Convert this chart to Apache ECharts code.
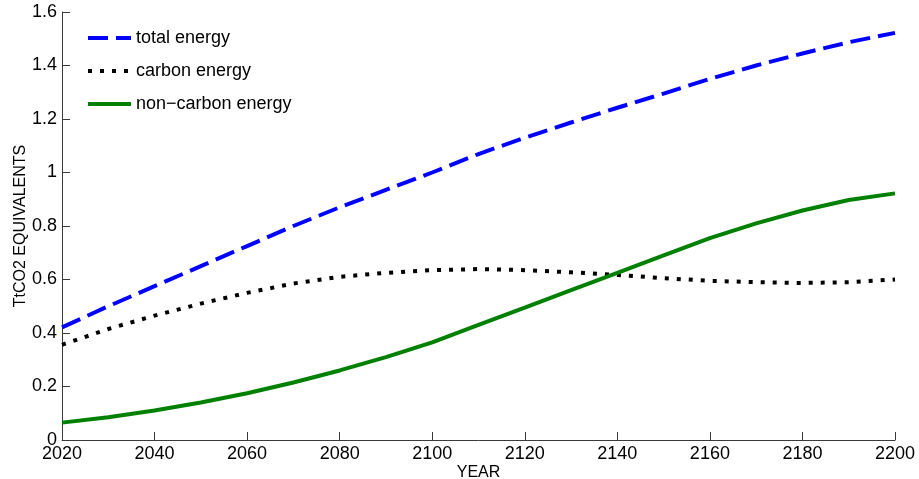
<!DOCTYPE html>
<html>
<head>
<meta charset="utf-8">
<script src="https://cdn.jsdelivr.net/npm/echarts@6/dist/echarts.min.js"></script>
<style>
  html, body { margin: 0; padding: 0; background: #fff; }
  #chart { width: 919px; height: 479px; }
</style>
</head>
<body>
<div id="chart"></div>
<script>
// Decadal projections, TtCO2 equivalents
const years = [2020, 2030, 2040, 2050, 2060, 2070, 2080, 2090, 2100, 2110,
               2120, 2130, 2140, 2150, 2160, 2170, 2180, 2190, 2200];
const totalEnergy = [0.421, 0.500, 0.575, 0.650, 0.725, 0.800, 0.870, 0.935, 1.000, 1.069,
                     1.130, 1.187, 1.242, 1.295, 1.350, 1.400, 1.445, 1.487, 1.522];
const carbonEnergy = [0.356, 0.415, 0.465, 0.510, 0.550, 0.585, 0.610, 0.625, 0.635, 0.639,
                      0.635, 0.627, 0.617, 0.605, 0.595, 0.590, 0.587, 0.590, 0.600];
const nonCarbonEnergy = [0.065, 0.085, 0.110, 0.140, 0.175, 0.215, 0.260, 0.310, 0.365, 0.430,
                         0.495, 0.560, 0.625, 0.690, 0.755, 0.810, 0.858, 0.897, 0.922];
const seriesNames = ['total energy', 'carbon energy', 'non\u2212carbon energy'];

const pairs = (vals) => years.map((y, i) => [y, vals[i]]);
const FONT = '"Liberation Sans", Arial, Helvetica, sans-serif';

const chart = echarts.init(document.getElementById('chart'), null, { renderer: 'canvas' });

const axisCommon = {
  axisLine: { show: true, lineStyle: { color: '#3a3a3a', width: 1 } },
  axisTick: { show: true, inside: true, length: 8, lineStyle: { color: '#3a3a3a', width: 1 } },
  splitLine: { show: false },
  nameMoveOverlap: false
};

chart.setOption({
  animation: false,
  backgroundColor: '#fff',
  grid: { left: 62, right: 24, top: 12, bottom: 39, containLabel: false, outerBoundsMode: 'none' },
  legend: {
    orient: 'vertical',
    left: 81,
    top: 24,
    itemWidth: 43,
    itemHeight: 14,
    itemGap: 15,
    itemStyle: { opacity: 0 },
    lineStyle: { width: 4 },
    textStyle: { color: '#000', fontFamily: FONT, fontSize: 18 },
    data: seriesNames
  },
  xAxis: Object.assign({}, axisCommon, {
    type: 'value',
    min: 2020,
    max: 2200,
    interval: 20,
    name: 'YEAR',
    nameLocation: 'middle',
    nameGap: 25,
    nameTextStyle: { color: '#000', fontFamily: FONT, fontSize: 16 },
    axisLabel: { color: '#000', fontFamily: FONT, fontSize: 18, margin: 5,
                 formatter: (v) => String(v) }
  }),
  yAxis: Object.assign({}, axisCommon, {
    type: 'value',
    min: 0,
    max: 1.6,
    interval: 0.2,
    name: 'TtCO2 EQUIVALENTS',
    nameLocation: 'middle',
    nameGap: 33,
    nameTextStyle: { color: '#000', fontFamily: FONT, fontSize: 16 },
    axisLabel: { color: '#000', fontFamily: FONT, fontSize: 18, margin: 5 }
  }),
  series: [
    {
      name: seriesNames[0],
      type: 'line',
      data: pairs(totalEnergy),
      showSymbol: false,
      symbol: 'none',
      lineStyle: { color: '#0000ff', width: 4, type: [20, 8], cap: 'butt' },
      itemStyle: { color: '#0000ff' }
    },
    {
      name: seriesNames[1],
      type: 'line',
      data: pairs(carbonEnergy),
      showSymbol: false,
      symbol: 'none',
      lineStyle: { color: '#000000', width: 4, type: [4, 8], cap: 'butt' },
      itemStyle: { color: '#000000' }
    },
    {
      name: seriesNames[2],
      type: 'line',
      data: pairs(nonCarbonEnergy),
      showSymbol: false,
      symbol: 'none',
      lineStyle: { color: '#008000', width: 4, type: 'solid', cap: 'butt' },
      itemStyle: { color: '#008000' }
    }
  ]
});
</script>
</body>
</html>
